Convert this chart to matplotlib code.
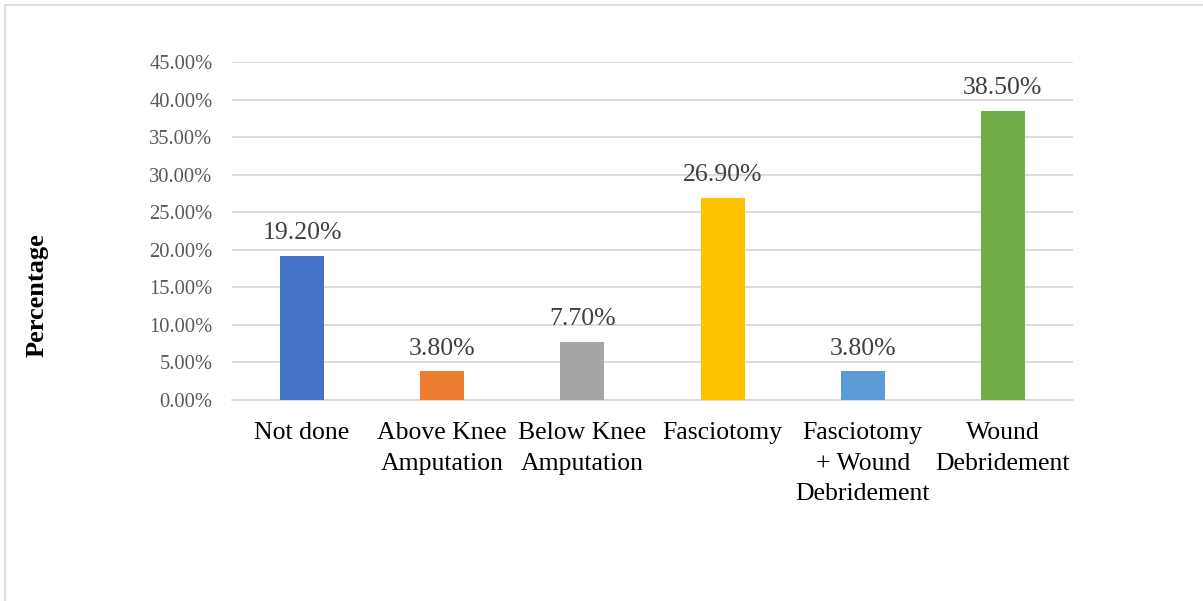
import matplotlib
matplotlib.use("Agg")
import matplotlib.pyplot as plt
from matplotlib.patches import Rectangle

plt.rcParams['font.family'] = ['Liberation Serif', 'DejaVu Serif']

categories = ["Not done", "Above Knee\nAmputation", "Below Knee\nAmputation",
              "Fasciotomy", "Fasciotomy\n+ Wound\nDebridement", "Wound\nDebridement"]
values = [19.2, 3.8, 7.7, 26.9, 3.8, 38.5]
bar_colors = ["#4472C4", "#ED7D31", "#A5A5A5", "#FFC000", "#5B9BD5", "#70AD47"]
yticks = [0, 5, 10, 15, 20, 25, 30, 35, 40, 45]

fig = plt.figure(figsize=(12.03, 6.01), dpi=100)
ax = fig.add_axes([232 / 1203, 1 - 400 / 601, 841 / 1203, 338 / 601])

x = range(len(categories))
bars = ax.bar(x, values, width=0.315, color=bar_colors, zorder=3)

for b, v in zip(bars, values):
    ax.annotate(f"{v:.2f}%", (b.get_x() + b.get_width() / 2, v),
                xytext=(0, 8.5), textcoords="offset points",
                ha="center", va="bottom", fontsize=18.5, color="#404040")

ax.set_xlim(-0.5, len(categories) - 0.5)
ax.set_ylim(0, 45)
ax.set_yticks(yticks)
ax.set_yticklabels([f"{t:.2f}%" for t in yticks], fontsize=14.8, color="#595959")
ax.set_xticks(list(x))
ax.set_xticklabels(categories, fontsize=18.5, color="black", linespacing=1.5)
ax.tick_params(axis="both", length=0)
ax.tick_params(axis="y", pad=14)
ax.tick_params(axis="x", pad=16)
ax.yaxis.grid(True, color="#D9D9D9", linewidth=1.3, zorder=0)
for s in ["top", "right", "left"]:
    ax.spines[s].set_visible(False)
ax.spines["bottom"].set_color("#D9D9D9")
ax.spines["bottom"].set_linewidth(1.3)

fig.text(37 / 1203, 1 - 295 / 601, "Percentage", rotation=90, fontsize=19,
         fontweight="bold", ha="center", va="center")

# outer chart border
fig.patches.append(Rectangle((5 / 1203, -0.1), 1.2, 1 - 4.5 / 601 + 0.1,
                             transform=fig.transFigure, fill=False,
                             edgecolor="#D9D9D9", linewidth=1.2))

fig.savefig("out.png", dpi=100)
